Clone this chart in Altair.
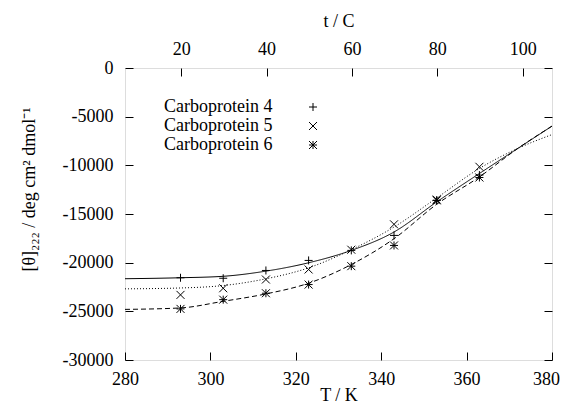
import altair as alt
import pandas as pd

# ---- data ----
names = ["Carboprotein 4", "Carboprotein 5", "Carboprotein 6"]

T_pts = [293, 303, 313, 323, 333, 343, 353, 363]
cp4 = [-21550, -21600, -20800, -19770, -18740, -17200, -13600, -11000]
cp5 = [-23310, -22630, -21730, -20700, -18670, -16060, -13520, -10150]
cp6 = [-24750, -23800, -23140, -22250, -20360, -18230, -13600, -11250]

T_fit = [280, 293, 303, 313, 323, 333, 343, 353, 363, 372, 380]
fit4 = [-21650, -21550, -21400, -20870, -20010, -18740, -16850, -13760, -10840, -8260, -5970]
fit5 = [-22690, -22600, -22350, -21660, -20530, -18670, -16340, -13350, -10320, -8260, -6840]
fit6 = [-24800, -24650, -23970, -23210, -22110, -20190, -17540, -14000, -11190, -8260, -5970]

x_ticks = [280, 300, 320, 340, 360, 380]
t_ticks = [20, 40, 60, 80, 100]
y_ticks = [0, -5000, -10000, -15000, -20000, -25000, -30000]

# ---- tables ----
pts = pd.DataFrame({
    "T": T_pts * 3,
    "v": cp4 + cp5 + cp6,
    "series": [names[0]] * len(T_pts) + [names[1]] * len(T_pts) + [names[2]] * len(T_pts),
})
fits = pd.DataFrame({
    "T": T_fit * 3,
    "v": fit4 + fit5 + fit6,
    "series": [names[0]] * len(T_fit) + [names[1]] * len(T_fit) + [names[2]] * len(T_fit),
})

PLUS = "M-1,0L1,0M0,-1L0,1"
CROSS = "M-1,-1L1,1M-1,1L1,-1"
STAR = PLUS + CROSS
shapes = [PLUS, CROSS, STAR]
dashes = [[1, 0], [1, 2], [5, 3]]

W, H = 427, 292
FONT = "Liberation Serif"
FS = 18

xscale = alt.Scale(domain=[280, 380], nice=False, zero=False)
yscale = alt.Scale(domain=[-30000, 0], nice=False, zero=False)

common_axis = dict(domain=False, grid=False, ticks=True, tickSize=8, offset=-8,
                   tickColor="black", tickWidth=1, labelFlush=False, labelOverlap=False,
                   labelFont=FONT, labelFontSize=FS, labelColor="black",
                   titleFont=FONT, titleFontSize=FS, titleFontWeight="normal", titleColor="black")

x_axis = alt.Axis(values=x_ticks, title="T / K", orient="bottom", labelPadding=10,
                  titleBaseline="alphabetic", titleY=48, titleX=W / 2,
                  labelOffset={"condition": {"test": "datum.value === 380", "value": -6}, "value": 0},
                  **common_axis)
y_axis = alt.Axis(values=y_ticks, title="[θ]₂₂₂ / deg cm² dmol⁻¹", orient="left",
                  labelPadding=12, labelExpr="toString(datum.value)",
                  titleX=-95, titleY=121, **common_axis)

lines = alt.Chart(fits).mark_line(color="black", strokeWidth=1, interpolate="monotone").encode(
    x=alt.X("T:Q", scale=xscale, axis=x_axis),
    y=alt.Y("v:Q", scale=yscale, axis=y_axis),
    strokeDash=alt.StrokeDash("series:N", scale=alt.Scale(domain=names, range=dashes), legend=None),
    detail="series:N",
)
points = alt.Chart(pts).mark_point(filled=False, color="black", strokeWidth=1, size=64, opacity=1).encode(
    x=alt.X("T:Q", scale=xscale),
    y=alt.Y("v:Q", scale=yscale),
    shape=alt.Shape("series:N", scale=alt.Scale(domain=names, range=shapes), legend=None),
)

# custom gnuplot-style key (label, then symbol)
legend_layers = []
ky = [39, 58, 77]
for i, nm in enumerate(names):
    ld = pd.DataFrame({"series": [nm]})
    legend_layers.append(
        alt.Chart(ld).mark_text(align="left", baseline="middle", font=FONT, fontSize=FS, color="black")
        .encode(x=alt.value(39), y=alt.value(ky[i]), text="series:N")
    )
    legend_layers.append(
        alt.Chart(ld).mark_point(filled=False, color="black", strokeWidth=1, size=64, shape=shapes[i], opacity=1)
        .encode(x=alt.value(188), y=alt.value(ky[i]))
    )

main = alt.layer(lines, points, *legend_layers)

top = alt.Chart(pd.DataFrame({"t": t_ticks})).mark_point(opacity=0).encode(
    x=alt.X("t:Q", scale=alt.Scale(domain=[280 - 273.15, 380 - 273.15], nice=False, zero=False),
            axis=alt.Axis(values=t_ticks, title="t / C", orient="top", labelPadding=10,
                          titlePadding=10, **common_axis)),
)
right = alt.Chart(pd.DataFrame({"v": y_ticks})).mark_point(opacity=0).encode(
    y=alt.Y("v:Q", scale=yscale,
            axis=alt.Axis(values=y_ticks, title=None, orient="right", labels=False,
                          **{k: v for k, v in common_axis.items() if not k.startswith("label")})),
)

chart = alt.layer(main, top, right).resolve_scale(x="independent", y="independent").properties(
    width=W, height=H,
    autosize=alt.AutoSizeParams(type="none"),
    padding={"left": 117, "top": 60, "right": 8, "bottom": 46},
).configure_view(stroke="black", strokeWidth=1).configure_axis(
    labelFont=FONT, titleFont=FONT
).configure_text(font=FONT).configure(background="white")

chart.save("out.html", embed_options={"renderer": "svg", "actions": False})
